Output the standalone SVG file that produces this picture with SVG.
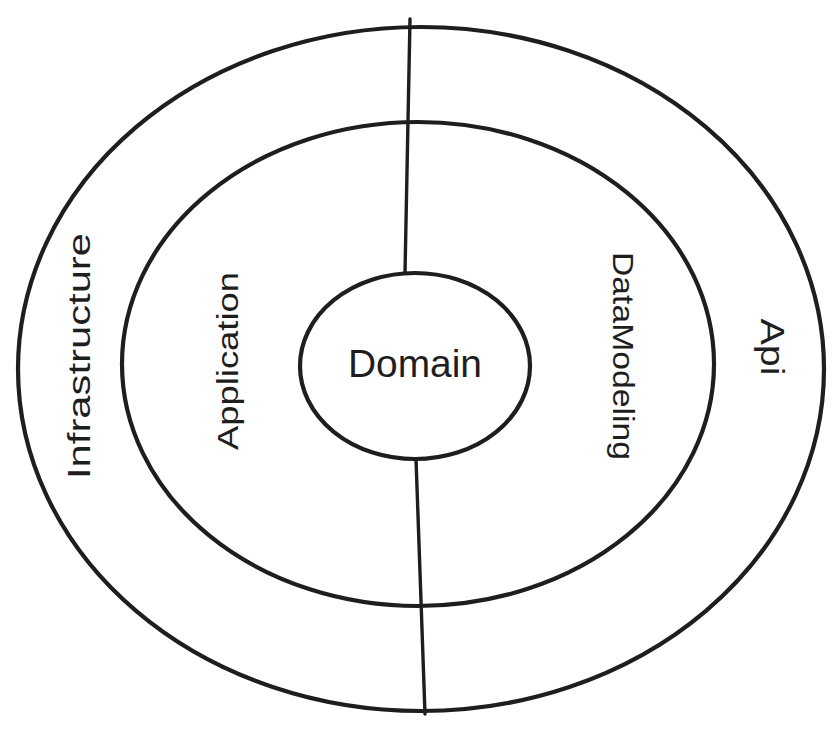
<svg xmlns="http://www.w3.org/2000/svg" width="838" height="735" viewBox="0 0 838 735">
<style>
.ring{fill:none;stroke:#1e1e1e;stroke-width:4.2}
.ln{fill:none;stroke:#1e1e1e;stroke-width:3.4;stroke-linecap:round}
.t{font-family:"Comic Sans MS","Liberation Sans",sans-serif;fill:#1e1e1e;text-anchor:middle}
</style>
<rect width="838" height="735" fill="#ffffff"/>
<g id="infrastructure">
<ellipse class="ring" cx="421" cy="369" rx="403" ry="342"/>
<text class="t" font-size="32" textLength="246" lengthAdjust="spacingAndGlyphs" transform="translate(90,356) rotate(-90)">Infrastructure</text>
</g>
<g id="api">
<text class="t" font-size="34" textLength="57" lengthAdjust="spacingAndGlyphs" transform="translate(761,347) rotate(90)">Api</text>
</g>
<g id="application">
<ellipse class="ring" cx="418" cy="364" rx="296" ry="242"/>
<text class="t" font-size="30" textLength="178" lengthAdjust="spacingAndGlyphs" transform="translate(238,361) rotate(-90)">Application</text>
</g>
<g id="datamodeling">
<text class="t" font-size="30" textLength="208" lengthAdjust="spacingAndGlyphs" transform="translate(613,356) rotate(90)">DataModeling</text>
</g>
<g id="domain">
<ellipse class="ring" cx="415" cy="366" rx="115" ry="93"/>
<text class="t" font-size="38" textLength="134" lengthAdjust="spacingAndGlyphs" x="415" y="377">Domain</text>
</g>
<g id="connectors">
<line class="ln" x1="410" y1="19" x2="405" y2="273"/>
<line class="ln" x1="416" y1="459" x2="425" y2="714"/>
</g>
</svg>
